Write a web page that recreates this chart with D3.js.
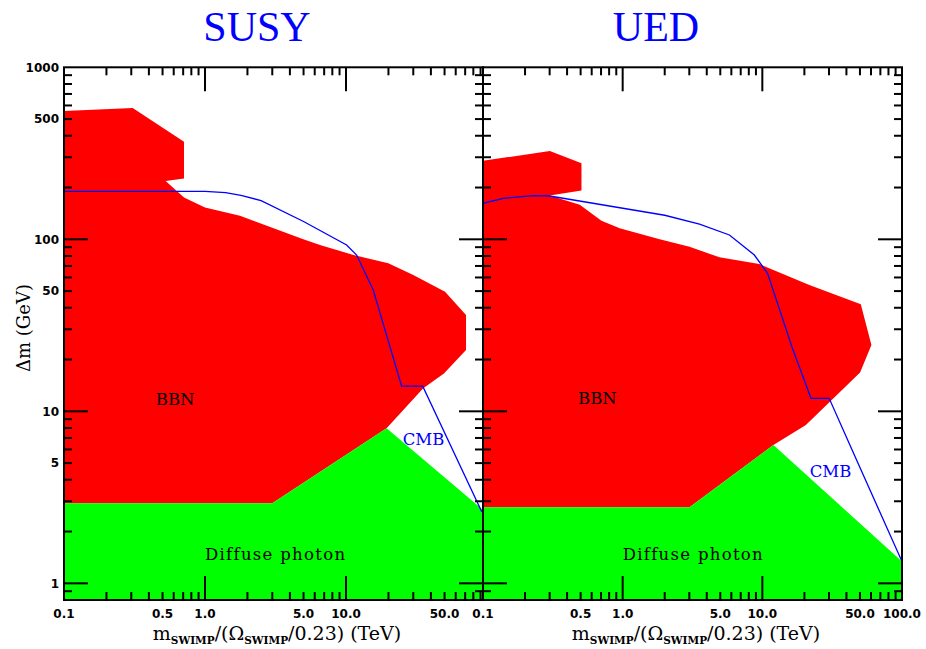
<!DOCTYPE html>
<html>
<head>
<meta charset="utf-8">
<script src="https://cdn.jsdelivr.net/npm/d3@7"></script>
<style>
  body { margin: 0; background: #fff; }
  svg { display: block; }
</style>
</head>
<body>
<figure id="chart" style="margin:0"></figure>
<script>
// tick labels
const xTickLabelsSusy = ["0.1", "0.5", "1.0", "5.0", "10.0", "50.0"];
const xTickLabelsUed = ["0.1", "0.5", "1.0", "5.0", "10.0", "50.0", "100.0"];
const yTickLabels = ["1", "5", "10", "50", "100", "500", "1000"];

// SUSY panel: [mass (TeV), delta m (GeV)]
const susyBBN = [[0.1, 557], [0.307, 580], [0.71, 369], [0.71, 226], [0.526, 218], [0.71, 175],
  [1.0, 153], [1.77, 137], [4.98, 100], [6.54, 92.7], [11.3, 81], [19.95, 72.5], [30, 62],
  [50.4, 49.6], [71, 36.3], [71, 22.7], [49.5, 16.6], [35.3, 13.6], [19.4, 7.96], [3.0, 2.92], [0.1, 2.92]];
const susyDiffuse = [[0.1, 2.92], [3.0, 2.92], [19.4, 7.96], [80, 2.98], [100, 2.55], [100, 0.8], [0.1, 0.8]];
const susyCMB = [[0.1, 190], [1.0, 190], [1.4, 187], [1.8, 180], [2.5, 168], [5.0, 127], [10.1, 92.7],
  [11.9, 81], [15.6, 50.7], [24.8, 14.0], [35.0, 14.0], [91.7, 2.61]];

// UED panel
const uedBBN = [[0.1, 286], [0.301, 326], [0.507, 277], [0.507, 192], [0.3, 180], [0.493, 158.6],
  [0.705, 128], [0.952, 116], [1.84, 100], [3.01, 90.6], [4.93, 78.6], [9.5, 71.8], [21.7, 54.2],
  [50.7, 41.9], [60.4, 24.3], [50.1, 16.8], [20.5, 8.33], [12.0, 6.37], [3.01, 2.77], [0.1, 2.77]];
const uedDiffuse = [[0.1, 2.77], [3.01, 2.77], [12.0, 6.37], [100, 1.34], [100, 0.8], [0.1, 0.8]];
const uedCMB = [[0.1, 162], [0.14, 173], [0.229, 179.4], [0.3, 178.6], [2.0, 138], [3.55, 122.7],
  [5.81, 106], [8.77, 81], [10.9, 63.4], [16.5, 23], [22.3, 11.9], [30.1, 11.9], [43.7, 6.01], [100, 1.34]];

const W = 926, H = 649;
const plotTop = 67.3, plotBottom = 600;

const svg = d3.select("#chart").append("svg")
  .attr("width", W).attr("height", H);

const defs = svg.append("defs");

function minorValues(lo, hi) {
  const out = [];
  for (let e = -2; e <= 3; e++) {
    for (let k = 1; k <= 9; k++) {
      const v = k * Math.pow(10, e);
      if (v >= lo * 0.9999 && v <= hi * 1.0001) out.push(v);
    }
  }
  return out;
}
const isDecade = v => Math.abs(Math.log10(v) - Math.round(Math.log10(v))) < 1e-6;

function drawPanel(p) {
  const x = d3.scaleLog().domain([0.1, 100]).range(p.xRange);
  const y = d3.scaleLog().domain([0.8, 1000]).range([plotBottom, plotTop]);
  const left = p.frame[0], right = p.frame[1];

  defs.append("clipPath").attr("id", "clip-" + p.id)
    .append("rect").attr("x", left).attr("y", plotTop)
    .attr("width", right - left).attr("height", plotBottom - plotTop);

  const g = svg.append("g").attr("clip-path", "url(#clip-" + p.id + ")");
  const area = d3.line().x(d => x(d[0])).y(d => y(d[1]));

  g.append("path").attr("d", area(p.bbn) + "Z").attr("fill", "#ff0000");
  g.append("path").attr("d", area(p.diffuse) + "Z").attr("fill", "#00ff00");
  g.append("path").attr("d", area(p.cmb)).attr("fill", "none")
    .attr("stroke", "#0000ff").attr("stroke-width", 1.3);

  // region labels
  const lab = svg.append("g").attr("font-family", "'DejaVu Serif', serif").attr("font-size", 16.5);
  lab.append("text").attr("x", x(p.bbnAt[0])).attr("y", y(p.bbnAt[1]))
    .attr("text-anchor", "middle").attr("fill", "#000").text("BBN");
  lab.append("text").attr("x", x(p.cmbAt[0])).attr("y", y(p.cmbAt[1]))
    .attr("text-anchor", "middle").attr("fill", "#0000ff").text("CMB");
  lab.append("text").attr("x", x(p.diffAt[0])).attr("y", y(p.diffAt[1]))
    .attr("letter-spacing", 1.3).attr("fill", "#000").text("Diffuse photon");

  // ticks
  const ax = svg.append("g").attr("stroke", "#000").attr("stroke-width", 2);
  minorValues(0.1, 100).forEach(v => {
    const px = x(v);
    if (px <= left + 0.5 || px >= right - 0.5) return;
    const len = isDecade(v) ? 24 : 8;
    ax.append("line").attr("x1", px).attr("x2", px).attr("y1", plotBottom).attr("y2", plotBottom - len);
    ax.append("line").attr("x1", px).attr("x2", px).attr("y1", plotTop).attr("y2", plotTop + len);
  });
  minorValues(0.8, 1000).forEach(v => {
    const py = y(v);
    if (py >= plotBottom - 0.5 || py <= plotTop + 0.5) return;
    const len = isDecade(v) ? 24 : 8;
    ax.append("line").attr("x1", left).attr("x2", left + len).attr("y1", py).attr("y2", py);
    ax.append("line").attr("x1", right).attr("x2", right - len).attr("y1", py).attr("y2", py);
  });
  ax.append("rect").attr("x", left).attr("y", plotTop)
    .attr("width", right - left).attr("height", plotBottom - plotTop)
    .attr("fill", "none");

  // x tick labels
  svg.append("g").attr("font-family", "'DejaVu Sans', sans-serif").attr("font-weight", "bold")
    .attr("font-size", 12).attr("text-anchor", "middle")
    .selectAll("text").data(p.xLabels).enter().append("text")
    .attr("x", d => x(+d)).attr("y", 618).text(d => d);

  if (p.yLabels) {
    svg.append("g").attr("font-family", "'DejaVu Sans', sans-serif").attr("font-weight", "bold")
      .attr("font-size", 12).attr("text-anchor", "end")
      .selectAll("text").data(p.yLabels).enter().append("text")
      .attr("x", left - 5).attr("y", d => y(+d)).attr("dy", "0.36em").text(d => d);
  }

  // panel title
  svg.append("text").attr("x", p.titleX).attr("y", 41).attr("text-anchor", "middle")
    .attr("font-family", "'Liberation Serif', serif").attr("font-size", 42)
    .attr("fill", "#0000ff").text(p.title);

  // x axis title
  const t = svg.append("text").attr("x", p.xTitleX).attr("y", 640).attr("text-anchor", "middle")
    .attr("font-family", "'DejaVu Serif', serif").attr("font-size", 19).attr("fill", "#000");
  t.append("tspan").text("m");
  t.append("tspan").attr("dy", 4).attr("font-size", 10.5).attr("font-weight", "bold").text("SWIMP");
  t.append("tspan").attr("dy", -4).text("/(Ω");
  t.append("tspan").attr("dy", 4).attr("font-size", 10.5).attr("font-weight", "bold").text("SWIMP");
  t.append("tspan").attr("dy", -4).text("/0.23) (TeV)");
}

drawPanel({
  id: "susy", title: "SUSY", titleX: 257, xTitleX: 277,
  xRange: [64, 487], frame: [64, 483],
  bbn: susyBBN, diffuse: susyDiffuse, cmb: susyCMB,
  xLabels: xTickLabelsSusy, yLabels: yTickLabels,
  bbnAt: [0.614, 10.9], cmbAt: [35.5, 6.37], diffAt: [1.0, 1.37]
});

drawPanel({
  id: "ued", title: "UED", titleX: 656, xTitleX: 696,
  xRange: [483, 902], frame: [483, 902],
  bbn: uedBBN, diffuse: uedDiffuse, cmb: uedCMB,
  xLabels: xTickLabelsUed, yLabels: null,
  bbnAt: [0.66, 11.0], cmbAt: [30.8, 4.13], diffAt: [1.0, 1.37]
});

// y axis title
svg.append("text").attr("transform", "translate(30,328) rotate(-90)")
  .attr("text-anchor", "middle").attr("font-family", "'DejaVu Serif', serif")
  .attr("font-size", 18).attr("fill", "#000").text("Δm (GeV)");
</script>
</body>
</html>
